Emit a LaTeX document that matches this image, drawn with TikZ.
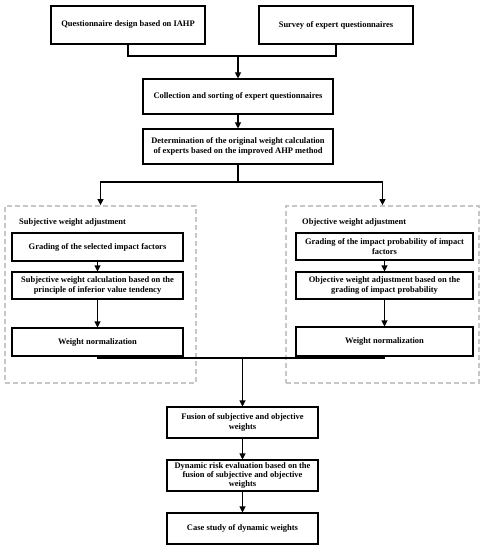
\documentclass[tikz,border=0pt]{standalone}
\usepackage{fontspec}
\setmainfont{Liberation Serif}
\usetikzlibrary{arrows.meta}
\begin{document}
\begin{tikzpicture}[x=1bp,y=-1bp,
  box/.style={draw=black,line width=1.1bp,fill=white,rectangle,inner sep=0pt,align=center,
    font=\bfseries\fontsize{8.5}{9.2}\selectfont},
  grp/.style={draw=black!22,line width=1.8bp,dash pattern=on 5bp off 3bp,rectangle,inner sep=0pt},
  lbl/.style={anchor=west,inner sep=0pt,font=\bfseries\fontsize{8.5}{9.2}\selectfont},
  ln/.style={line width=1.1bp},
  arr/.style={line width=1.1bp,-{Triangle[length=6bp,width=6bp]}}]
\useasboundingbox (0,0) rectangle (486,550);
% top boxes
\node[box,minimum width=154bp,minimum height=38bp] (b1) at (128,25) {Questionnaire design based on IAHP};
\node[box,minimum width=154bp,minimum height=38bp] (b2) at (336,25) {Survey of expert questionnaires};
\node[box,minimum width=190bp,minimum height=35bp] (b3) at (238,96.5) {Collection and sorting of expert questionnaires};
\node[box,minimum width=190bp,minimum height=35bp] (b4) at (238,146.5) {Determination of the original weight calculation\\of experts based on the improved AHP method};
% groups
\node[grp,minimum width=191bp,minimum height=177bp] (dl) at (100.5,294.5) {};
\node[grp,minimum width=193bp,minimum height=177bp] (dr) at (382.5,294.5) {};
\node[lbl] (tl) at (19,222) {Subjective weight adjustment};
\node[lbl] (tr) at (302,222) {Objective weight adjustment};
% left inner
\node[box,minimum width=171bp,minimum height=28bp] (L1) at (97.5,247) {Grading of the selected impact factors};
\node[box,minimum width=171bp,minimum height=27bp] (L2) at (97.5,285.5) {Subjective weight calculation based on the\\principle of inferior value tendency};
\node[box,minimum width=171bp,minimum height=28bp] (L3) at (97.5,342) {Weight normalization};
% right inner
\node[box,minimum width=177bp,minimum height=27bp] (R1) at (384.5,246.5) {Grading of the impact probability of impact\\factors};
\node[box,minimum width=177bp,minimum height=27bp] (R2) at (384.5,285.5) {Objective weight adjustment based on the\\grading of impact probability};
\node[box,minimum width=177bp,minimum height=29bp] (R3) at (384.5,341.5) {Weight normalization};
% bottom
\node[box,minimum width=151bp,minimum height=31bp] (F1) at (242.5,422.5) {Fusion of subjective and objective\\weights};
\node[box,minimum width=151bp,minimum height=31bp] (F2) at (242.5,475.5) {Dynamic risk evaluation based on the\\fusion of subjective and objective\\weights};
\node[box,minimum width=151bp,minimum height=31bp] (F3) at (242.5,528.5) {Case study of dynamic weights};
% connectors
\coordinate (j1) at (238,56);
\draw[ln] (b1.south) |- (j1) -| (b2.south);
\draw[arr] (j1) -- (b3.north);
\draw[arr] (b3) -- (b4);
\coordinate (j2) at (238,182);
\draw[ln] (b4.south) -- (j2);
\draw[arr] (j2) -| (dl.north);
\draw[arr] (j2) -| (dr.north);
\draw[arr] (L1) -- (L2);
\draw[arr] (L2) -- (L3);
\draw[arr] (R1) -- (R2);
\draw[arr] (R2) -- (R3);
\coordinate (j3) at (242.5,358);
\draw[ln] (L3.south) |- (j3);
\draw[ln] (R3.south) |- (j3);
\draw[arr] (j3) -- (F1.north);
\draw[arr] (F1) -- (F2);
\draw[arr] (F2) -- (F3);
\end{tikzpicture}
\end{document}
